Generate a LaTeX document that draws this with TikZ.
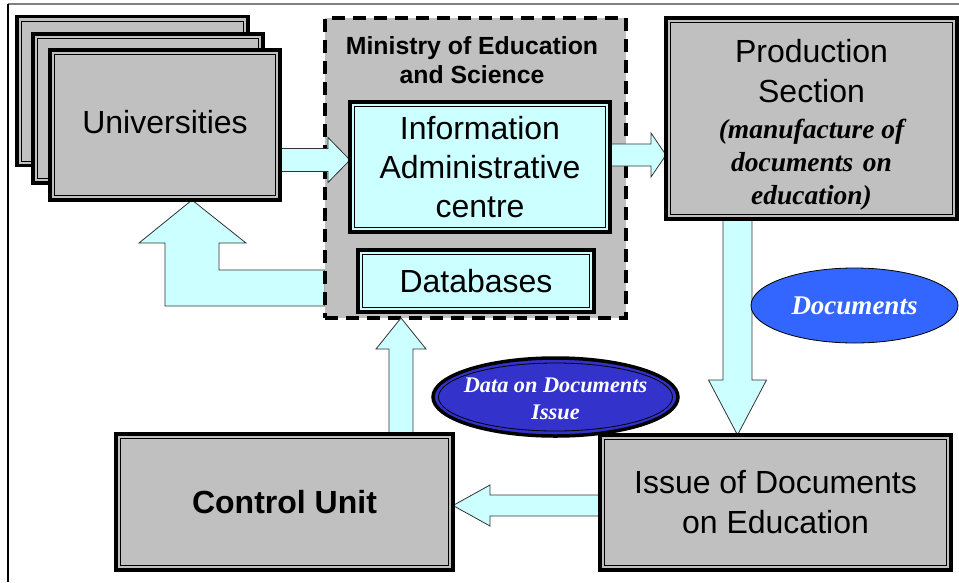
\documentclass[tikz,border=0pt]{standalone}
\usepackage{fontspec}
\setmainfont{Liberation Sans}
\newfontfamily\tnr{Liberation Serif}
\usetikzlibrary{calc,shapes.geometric}
\definecolor{boxgray}{HTML}{C0C0C0}
\definecolor{lcyan}{HTML}{CCFFFF}
\definecolor{docblue}{HTML}{3366FF}
\definecolor{datablue}{HTML}{3333CC}
\pgfdeclarelayer{arrback}
\pgfdeclarelayer{bg}
\pgfdeclarelayer{arr}
\pgfsetlayers{arrback,bg,arr,main}
\newcommand\blockarrow[5]{%
  \coordinate (hb) at ($(#2)!#5!(#1)$);
  \draw[barrowstyle] ($(#1)!#3!90:(#2)$) -- ($(hb)!#3!90:(#2)$) -- ($(hb)!#4!90:(#2)$) -- (#2)
    -- ($(hb)!#4!-90:(#2)$) -- ($(hb)!#3!-90:(#2)$) -- ($(#1)!#3!-90:(#2)$) -- cycle;}
\begin{document}
\begin{tikzpicture}[x=1pt,y=-1pt,
  graybox/.style={rectangle, draw=black, line width=3.5pt, fill=boxgray, inner sep=0pt, outer sep=0pt,
    path picture={\draw[line width=1pt,black] ([shift={(4.5pt,-4.5pt)}]path picture bounding box.north west)
      rectangle ([shift={(-4.5pt,4.5pt)}]path picture bounding box.south east);}},
  cyanbox/.style={graybox, fill=lcyan},
  bigtext/.style={font=\fontsize{32}{39}\selectfont, align=center},
  barrowstyle/.style={fill=lcyan, draw=black!80, line width=0.8pt, line join=miter},
  ituser/.style={text=white, font=\tnr\bfseries\itshape}]
\useasboundingbox (0,0) rectangle (959,582);
\draw[gray, line width=1.5pt] (8,4) -- (959,4);
\draw[black, line width=1.2pt] (8,4) -- (8,582);

% Universities stack
\node[graybox, minimum width=231pt, minimum height=149pt] (univA) at (132.5,91) {};
\node[graybox, minimum width=230pt, minimum height=149pt] (univB) at (148,108.5) {};
\node[graybox, bigtext, minimum width=230pt, minimum height=150pt] (univ) at (165,125) {\raisebox{6pt}{Universities}};

% Ministry
\begin{pgfonlayer}{bg}
\node[rectangle, draw=black, line width=4pt, dash pattern=on 13pt off 8pt, fill=boxgray, outer sep=0pt,
  minimum width=301pt, minimum height=300pt] (ministry) at (475.5,168) {};
\end{pgfonlayer}
\node[font=\bfseries\fontsize{24.8}{29}\selectfont, align=center] (mtitle) at (472,60) {Ministry of Education\\and Science};
\node[cyanbox, bigtext, minimum width=260pt, minimum height=130pt] (info) at (480,167) {Information\\Administrative\\centre};
\node[cyanbox, bigtext, minimum width=236pt, minimum height=62pt] (db) at (476,281) {Databases};

% Production
\node[graybox, minimum width=291pt, minimum height=201pt, text width=285pt, align=center] (prod) at (811.5,118.5)
  {{\fontsize{32}{40}\selectfont\rule{0pt}{35pt}Production\par Section\par}\vspace{3pt}{\tnr\bfseries\itshape\fontsize{27.5}{33}\selectfont (manufacture\ \ of\par documents\hspace{0.35em}on\par education)\par}};

% Ellipses
\node[ellipse, draw=black, line width=0.8pt, fill=docblue, minimum width=207pt, minimum height=75pt, inner sep=0pt,
  ituser, font=\tnr\bfseries\itshape\fontsize{27}{32}\selectfont] (docs) at (854.5,305.5) {Documents};
\node[ellipse, draw=black, line width=3.5pt, fill=datablue, minimum width=245pt, minimum height=78pt, inner sep=0pt,
  ituser, font=\tnr\bfseries\itshape\fontsize{22.3}{27}\selectfont,
  path picture={\draw[black, line width=0.8pt] (path picture bounding box.center) ellipse [x radius=117pt, y radius=34pt];}]
  (data) at (555.5,397) {\makebox[0pt]{\raisebox{-3.5pt}[\height][\depth]{\begin{tabular}{@{}c@{}}Data on Documents\\Issue\end{tabular}}}};

% Bottom boxes
\node[graybox, font=\bfseries\fontsize{32}{40}\selectfont, minimum width=337pt, minimum height=136pt] (control) at (284.5,502) {Control Unit};
\node[graybox, font=\fontsize{32}{40}\selectfont, align=center, minimum width=351pt, minimum height=135pt] (issue) at (775.5,502.5) {Issue of Documents\\on Education};

% Arrows
\begin{pgfonlayer}{arr}
\coordinate (a1s) at ($(univ.east)+(0,35)$);
\coordinate (a1e) at (a1s -| info.west);
\blockarrow{a1s}{a1e}{11.5pt}{22.5pt}{22pt}
\coordinate (a2s) at ($(info.east)+(0,-12)$);
\coordinate (a2e) at (a2s -| prod.west);
\blockarrow{a2s}{a2e}{11pt}{22pt}{15pt}
\coordinate (a3s) at ($(prod.south)+(-74,0)$);
\coordinate (a3e) at (a3s |- issue.north);
\blockarrow{a3s}{a3e}{14.5pt}{29pt}{55pt}
\coordinate (a4s) at ($(issue.west)+(0,3)$);
\coordinate (a4e) at (a4s -| control.east);
\blockarrow{a4s}{a4e}{10.5pt}{20.5pt}{37pt}
\coordinate (a5s) at ($(control.north)+(116.5,0)$);
\coordinate (a5e) at (a5s |- ministry.south);
\blockarrow{a5s}{a5e}{12pt}{25pt}{31pt}
\end{pgfonlayer}
\begin{pgfonlayer}{arrback}
\coordinate (a6s) at ($(ministry.west)+(0,120)$);
\coordinate (a6e) at ($(univ.south)+(27,0)$);
\draw[barrowstyle] ($(a6s)+(0,-18)$) -- ($(a6e |- a6s)+(27,-18)$) -- ($(a6e)+(27,43)$) -- ($(a6e)+(54,43)$)
  -- (a6e) -- ($(a6e)+(-53,43)$) -- ($(a6e)+(-27,43)$) -- ($(a6e |- a6s)+(-27,18)$) -- ($(a6s)+(0,18)$) -- cycle;
\end{pgfonlayer}
\end{tikzpicture}
\end{document}
